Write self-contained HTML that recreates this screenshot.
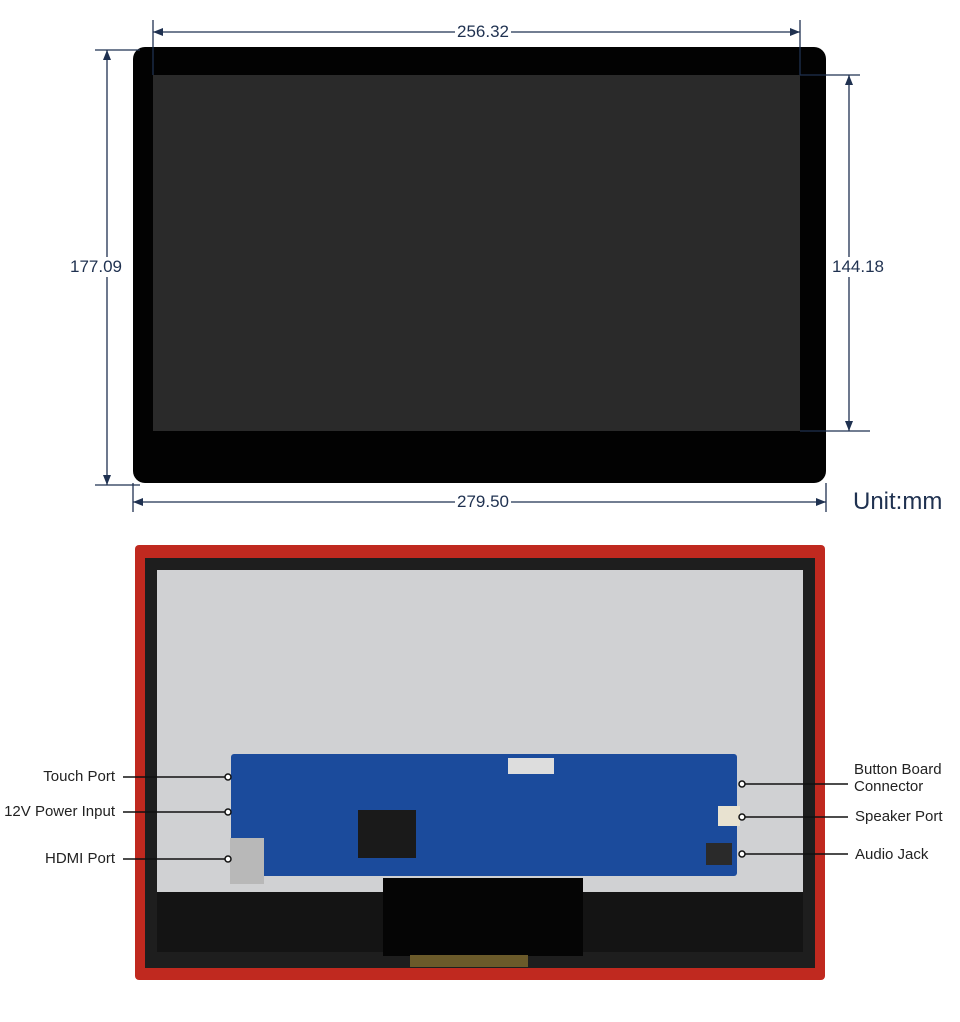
<!DOCTYPE html>
<html><head><style>
body{margin:0;width:960px;height:1022px;background:#fff;position:relative;overflow:hidden;font-family:"Liberation Sans",sans-serif}
.a{position:absolute}
.t{position:absolute;color:#1f3150;font-size:17px;background:#fff;padding:0 2px;line-height:20px}
.l{position:absolute;font-size:15px;color:#222;line-height:17px}
.r{text-align:right;width:200px}
</style></head><body>
<div class="a" style="left:133px;top:47px;width:693px;height:436px;background:#020202;border-radius:12px"></div>
<div class="a" style="left:153px;top:75px;width:647px;height:356px;background:#2a2a2a"></div>
<svg class="a" style="left:0;top:0" width="960" height="520">
<g stroke="#1f3150" stroke-width="1.3" fill="none">
<line x1="153" y1="20" x2="153" y2="75"/><line x1="800" y1="20" x2="800" y2="75"/>
<line x1="153" y1="32" x2="800" y2="32"/>
<line x1="95" y1="50" x2="140" y2="50"/><line x1="95" y1="485" x2="140" y2="485"/>
<line x1="107" y1="50" x2="107" y2="485"/>
<line x1="800" y1="75" x2="860" y2="75"/><line x1="800" y1="431" x2="870" y2="431"/>
<line x1="849" y1="75" x2="849" y2="431"/>
<line x1="133" y1="483" x2="133" y2="512"/><line x1="826" y1="483" x2="826" y2="512"/>
<line x1="133" y1="502" x2="826" y2="502"/>
</g>
<g fill="#1f3150">
<path d="M153 32 l10 -4 v8z"/><path d="M800 32 l-10 -4 v8z"/>
<path d="M107 50 l-4 10 h8z"/><path d="M107 485 l-4 -10 h8z"/>
<path d="M849 75 l-4 10 h8z"/><path d="M849 431 l-4 -10 h8z"/>
<path d="M133 502 l10 -4 v8z"/><path d="M826 502 l-10 -4 v8z"/>
</g>
</svg>
<div class="t" style="left:455px;top:22px">256.32</div>
<div class="t" style="left:68px;top:257px">177.09</div>
<div class="t" style="left:830px;top:257px">144.18</div>
<div class="t" style="left:455px;top:492px">279.50</div>
<div class="a" style="left:853px;top:488px;font-size:24px;color:#1f3150">Unit:mm</div>
<div class="a" style="left:135px;top:545px;width:690px;height:435px;background:#c0291f;border-radius:4px"></div>
<div class="a" style="left:145px;top:558px;width:670px;height:410px;background:#1e1e1e"></div>
<div class="a" style="left:157px;top:570px;width:646px;height:322px;background:#d0d1d3"></div>
<div class="a" style="left:157px;top:892px;width:646px;height:60px;background:#141414"></div>
<div class="a" style="left:383px;top:878px;width:200px;height:78px;background:#050505"></div>
<div class="a" style="left:410px;top:955px;width:118px;height:12px;background:#6b5a2a"></div>
<div class="a" style="left:231px;top:754px;width:506px;height:122px;background:#1b4b9c;border-radius:3px"></div>
<div class="a" style="left:358px;top:810px;width:58px;height:48px;background:#1a1a1a"></div>
<div class="a" style="left:230px;top:838px;width:34px;height:46px;background:#b8b8b8"></div>
<div class="a" style="left:508px;top:758px;width:46px;height:16px;background:#ddd"></div>
<div class="a" style="left:706px;top:843px;width:26px;height:22px;background:#2a2a2a"></div>
<div class="a" style="left:718px;top:806px;width:22px;height:20px;background:#e8e2d0"></div>
<svg class="a" style="left:0;top:740px" width="960" height="140">
<g stroke="#111" stroke-width="1.5" fill="#fff">
<line x1="123" y1="37" x2="226" y2="37"/><circle cx="228" cy="37" r="3"/>
<line x1="123" y1="72" x2="226" y2="72"/><circle cx="228" cy="72" r="3"/>
<line x1="123" y1="119" x2="226" y2="119"/><circle cx="228" cy="119" r="3"/>
<line x1="744" y1="44" x2="848" y2="44"/><circle cx="742" cy="44" r="3"/>
<line x1="744" y1="77" x2="848" y2="77"/><circle cx="742" cy="77" r="3"/>
<line x1="744" y1="114" x2="848" y2="114"/><circle cx="742" cy="114" r="3"/>
</g></svg>
<div class="l r" style="left:-85px;top:768px">Touch Port</div>
<div class="l r" style="left:-85px;top:803px">12V Power Input</div>
<div class="l r" style="left:-85px;top:850px">HDMI Port</div>
<div class="l" style="left:854px;top:761px">Button Board<br>Connector</div>
<div class="l" style="left:855px;top:808px">Speaker Port</div>
<div class="l" style="left:855px;top:846px">Audio Jack</div>
</body></html>
